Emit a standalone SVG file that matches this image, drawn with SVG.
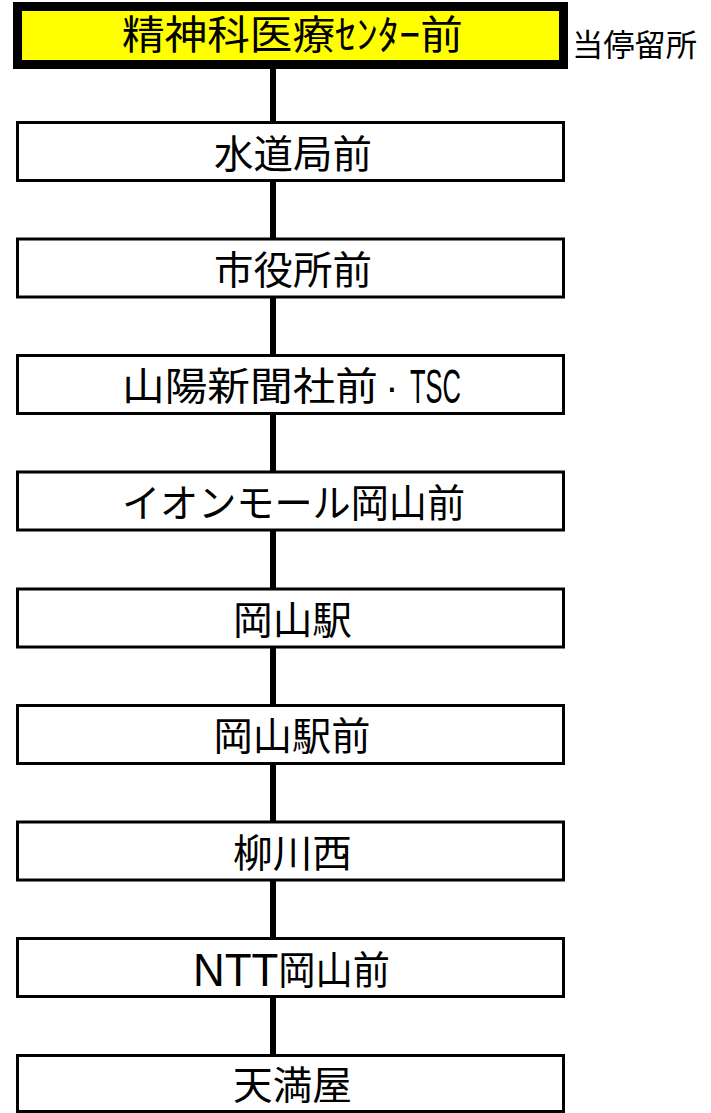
<svg xmlns="http://www.w3.org/2000/svg" width="711" height="1113" viewBox="0 0 711 1113">
<style>
.box{fill:#fff;stroke:#000;stroke-width:3}
.cur{fill:#ffff00;stroke:#000;stroke-width:9}
.lbl{font-family:"Noto Sans CJK JP","Liberation Sans",sans-serif;font-size:39px;text-anchor:middle;fill:#000}
.lat{font-family:"Liberation Sans",sans-serif;font-size:49px;fill:#000}
.conn{stroke:#000;stroke-width:6}
</style>
<rect width="711" height="1113" fill="#fff"/>
<g id="connectors">
<line class="conn" x1="273" y1="69" x2="273" y2="123"/>
<line class="conn" x1="273" y1="180" x2="273" y2="240"/>
<line class="conn" x1="273" y1="297" x2="273" y2="357"/>
<line class="conn" x1="273" y1="413" x2="273" y2="473"/>
<line class="conn" x1="273" y1="530" x2="273" y2="590"/>
<line class="conn" x1="273" y1="646" x2="273" y2="706"/>
<line class="conn" x1="273" y1="763" x2="273" y2="823"/>
<line class="conn" x1="273" y1="880" x2="273" y2="940"/>
<line class="conn" x1="273" y1="996" x2="273" y2="1056"/>
</g>
<g id="n0">
<rect class="cur" x="17.5" y="6.5" width="546" height="58"/>
<text class="lbl" x="292.5" y="49" style="font-size:40px" textLength="341" lengthAdjust="spacingAndGlyphs">精神科医療ｾﾝﾀｰ前</text>
</g>
<g id="note"><text x="572" y="56" font-family="Noto Sans CJK JP,sans-serif" font-size="31" textLength="125" lengthAdjust="spacingAndGlyphs">当停留所</text></g>
<g id="n1"><rect class="box" x="17.5" y="122.5" width="546" height="58"/><text class="lbl" x="293" y="167.5" textLength="158" lengthAdjust="spacingAndGlyphs">水道局前</text></g>
<g id="n2"><rect class="box" x="17.5" y="239" width="546" height="58"/><text class="lbl" x="293" y="284" textLength="158" lengthAdjust="spacingAndGlyphs">市役所前</text></g>
<g id="n3"><rect class="box" x="17.5" y="355.5" width="546" height="58"/>
<text class="lbl" x="250" y="400" textLength="256" lengthAdjust="spacingAndGlyphs">山陽新聞社前</text>
<text class="lat" x="392" y="401" text-anchor="middle" style="font-size:40px">·</text>
<text class="lat" x="410" y="403" textLength="51" lengthAdjust="spacingAndGlyphs">TSC</text></g>
<g id="n4"><rect class="box" x="17.5" y="472" width="546" height="58"/><text class="lbl" x="293.5" y="517" textLength="343" lengthAdjust="spacingAndGlyphs">イオンモール岡山前</text></g>
<g id="n5"><rect class="box" x="17.5" y="589" width="546" height="58"/><text class="lbl" x="292.5" y="633.5" textLength="119" lengthAdjust="spacingAndGlyphs">岡山駅</text></g>
<g id="n6"><rect class="box" x="17.5" y="705.5" width="546" height="58"/><text class="lbl" x="292" y="750" textLength="157" lengthAdjust="spacingAndGlyphs">岡山駅前</text></g>
<g id="n7"><rect class="box" x="17.5" y="822" width="546" height="58"/><text class="lbl" x="292.5" y="866.5" textLength="119" lengthAdjust="spacingAndGlyphs">柳川西</text></g>
<g id="n8"><rect class="box" x="17.5" y="938.5" width="546" height="58"/>
<text class="lbl" x="291.5" y="984" textLength="197" lengthAdjust="spacingAndGlyphs"><tspan class="lat" style="font-size:46px" dy="2">NTT</tspan><tspan dy="-2">岡山前</tspan></text></g>
<g id="n9"><rect class="box" x="17.5" y="1055.5" width="546" height="56"/><text class="lbl" x="292.5" y="1098.5" textLength="119" lengthAdjust="spacingAndGlyphs">天満屋</text></g>
</svg>
